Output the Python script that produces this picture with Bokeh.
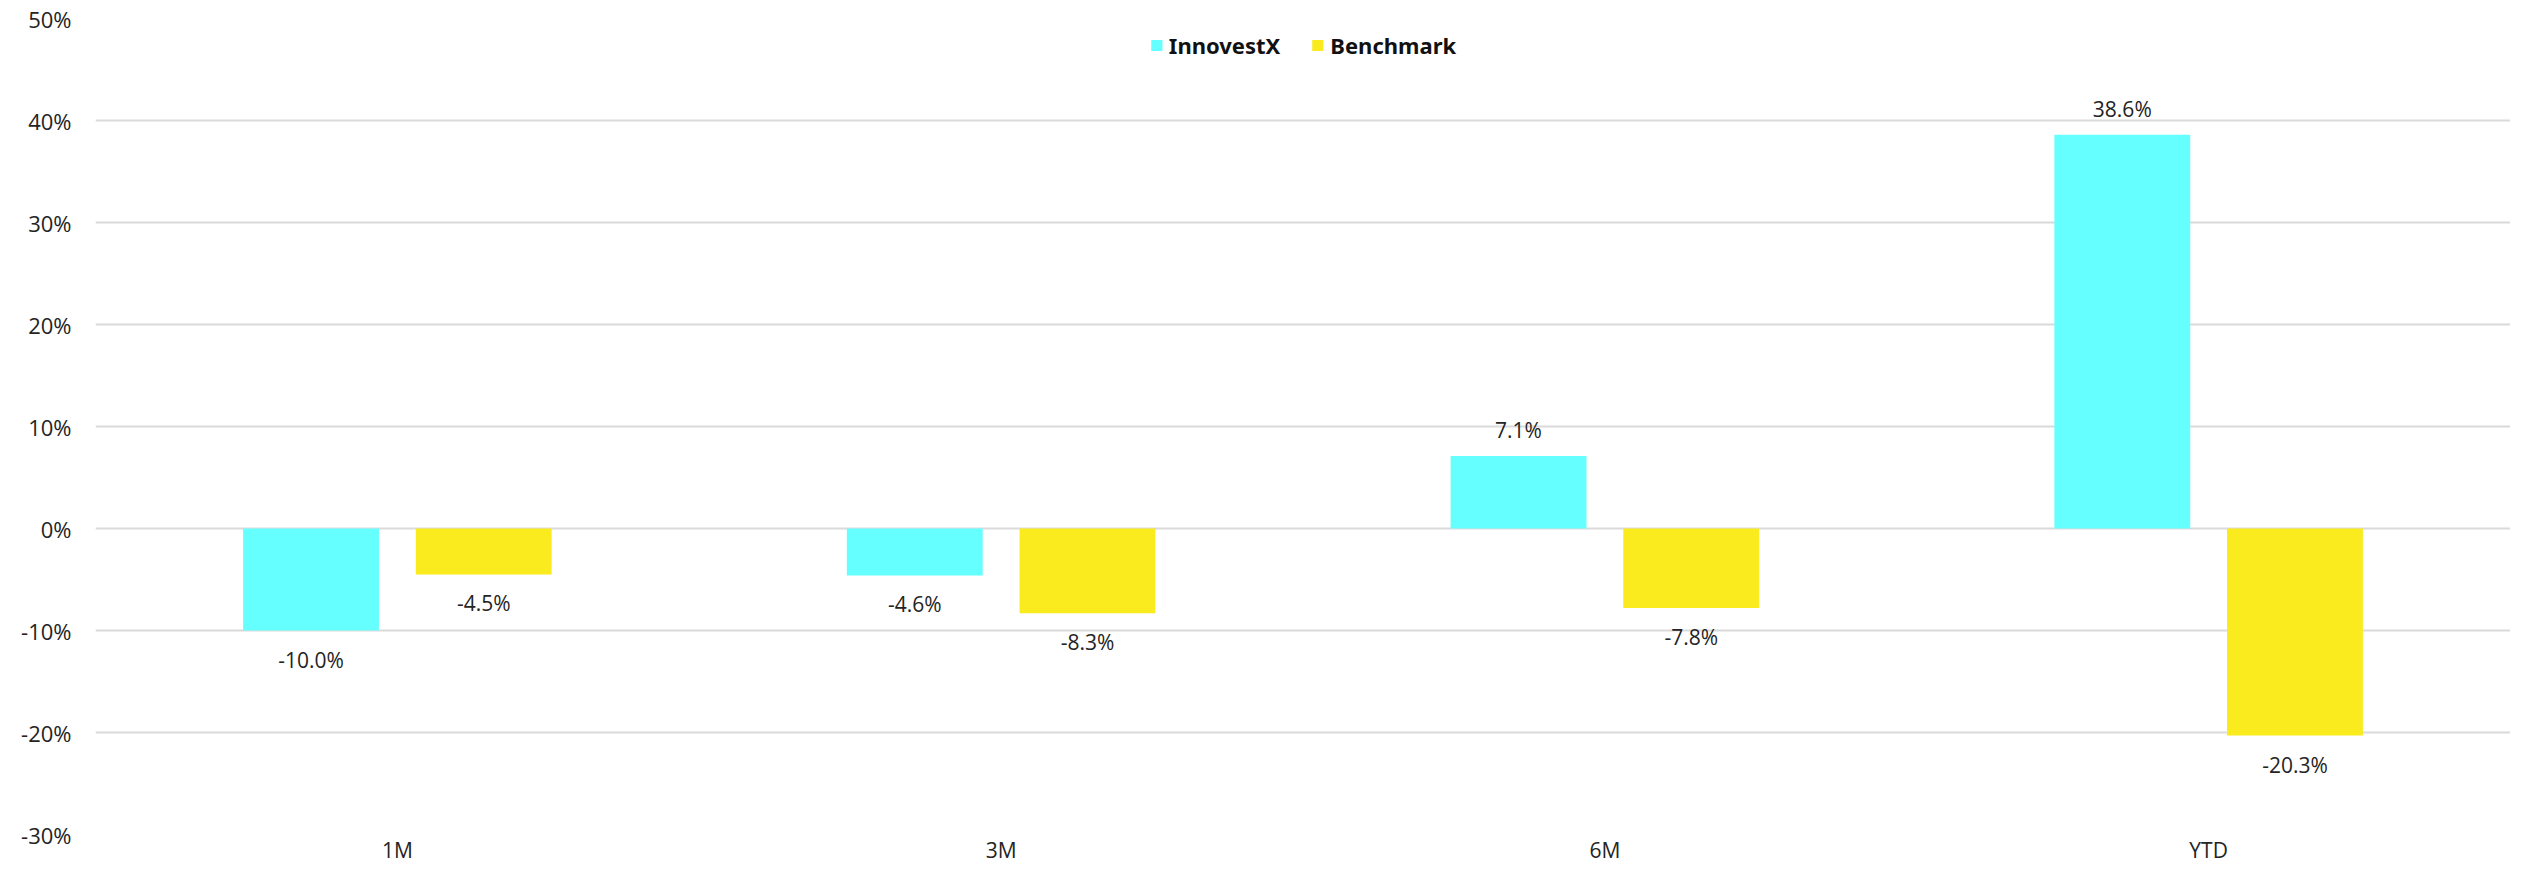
from bokeh.plotting import figure
from bokeh.models import (ColumnDataSource, FactorRange, Range1d, FixedTicker,
                          Legend, LegendItem, PrintfTickFormatter)
from bokeh.transform import dodge
from bokeh.core.properties import value
from bokeh.embed import file_html
from bokeh.resources import INLINE

# ---- data ----
categories = ["1M", "3M", "6M", "YTD"]
series_names = ["InnovestX", "Benchmark"]
innovestx = [-10.0, -4.6, 7.1, 38.6]
benchmark = [-4.5, -8.3, -7.8, -20.3]
y_ticks = [-30, -20, -10, 0, 10, 20, 30, 40, 50]

# ---- style ----
CYAN = "#66FFFF"
YELLOW = "#F9EB1E"
TEXT = "#252423"
GRID = "#DADADA"
OFF = 0.143
BAR_W = 0.225

def lbl(vals):
    return [f"{v:.1f}%" for v in vals]

def offs(vals):
    return [-26 if v >= 0 else 29 for v in vals]

source = ColumnDataSource(dict(
    cat=categories,
    inv=innovestx, bm=benchmark,
    inv_lbl=lbl(innovestx), bm_lbl=lbl(benchmark),
    inv_off=offs(innovestx), bm_off=offs(benchmark),
))

p = figure(x_range=FactorRange(*categories), y_range=Range1d(-30, 50),
           width=2510, height=866, output_backend="svg", toolbar_location=None,
           min_border_left=95, min_border_right=0, min_border_top=18,
           min_border_bottom=20)
p.outline_line_color = None
p.background_fill_color = "white"

r1 = p.vbar(x=dodge("cat", -OFF, range=p.x_range), top="inv", bottom=0,
            width=BAR_W, source=source, fill_color=CYAN, line_color=None)
r2 = p.vbar(x=dodge("cat", OFF, range=p.x_range), top="bm", bottom=0,
            width=BAR_W, source=source, fill_color=YELLOW, line_color=None)

for col, lab, off, dx in (("inv", "inv_lbl", "inv_off", -OFF), ("bm", "bm_lbl", "bm_off", OFF)):
    p.text(x=dodge("cat", dx, range=p.x_range), y=col, text=lab, y_offset=off,
           source=source, text_align="center", text_baseline="middle",
           text_font=value("Open Sans"), text_font_size="21px", text_color=TEXT)

# axes
p.xaxis.axis_line_color = None
p.xaxis.major_tick_line_color = None
p.xaxis.minor_tick_line_color = None
p.xaxis.major_tick_out = 0
p.xaxis.major_tick_in = 0
p.xaxis.major_label_text_font = "Open Sans"
p.xaxis.major_label_text_font_size = "21px"
p.xaxis.major_label_text_color = TEXT
p.xaxis.major_label_standoff = 1

p.yaxis.ticker = FixedTicker(ticks=y_ticks)
p.yaxis.formatter = PrintfTickFormatter(format="%d%%")
p.yaxis.axis_line_color = None
p.yaxis.major_tick_line_color = None
p.yaxis.minor_tick_line_color = None
p.yaxis.major_tick_out = 0
p.yaxis.major_tick_in = 0
p.yaxis.major_label_standoff = 24
p.yaxis.major_label_text_font = "Open Sans"
p.yaxis.major_label_text_font_size = "22px"
p.yaxis.major_label_text_color = TEXT

p.xgrid.grid_line_color = None
p.ygrid.ticker = FixedTicker(ticks=y_ticks)
p.ygrid.grid_line_color = GRID
p.ygrid.grid_line_width = 2

legend = Legend(items=[LegendItem(label=series_names[0], renderers=[r1]),
                       LegendItem(label=series_names[1], renderers=[r2])],
                orientation="horizontal", location="top_center",
                glyph_width=14, glyph_height=14, label_standoff=6, spacing=30,
                label_text_font="Noto Sans", label_text_font_style="bold",
                label_text_font_size="22px", label_text_color="#111111",
                border_line_color=None, background_fill_alpha=0,
                padding=13, margin=12)
p.add_layout(legend, "center")

open("out.html", "w").write(file_html(p, INLINE))
